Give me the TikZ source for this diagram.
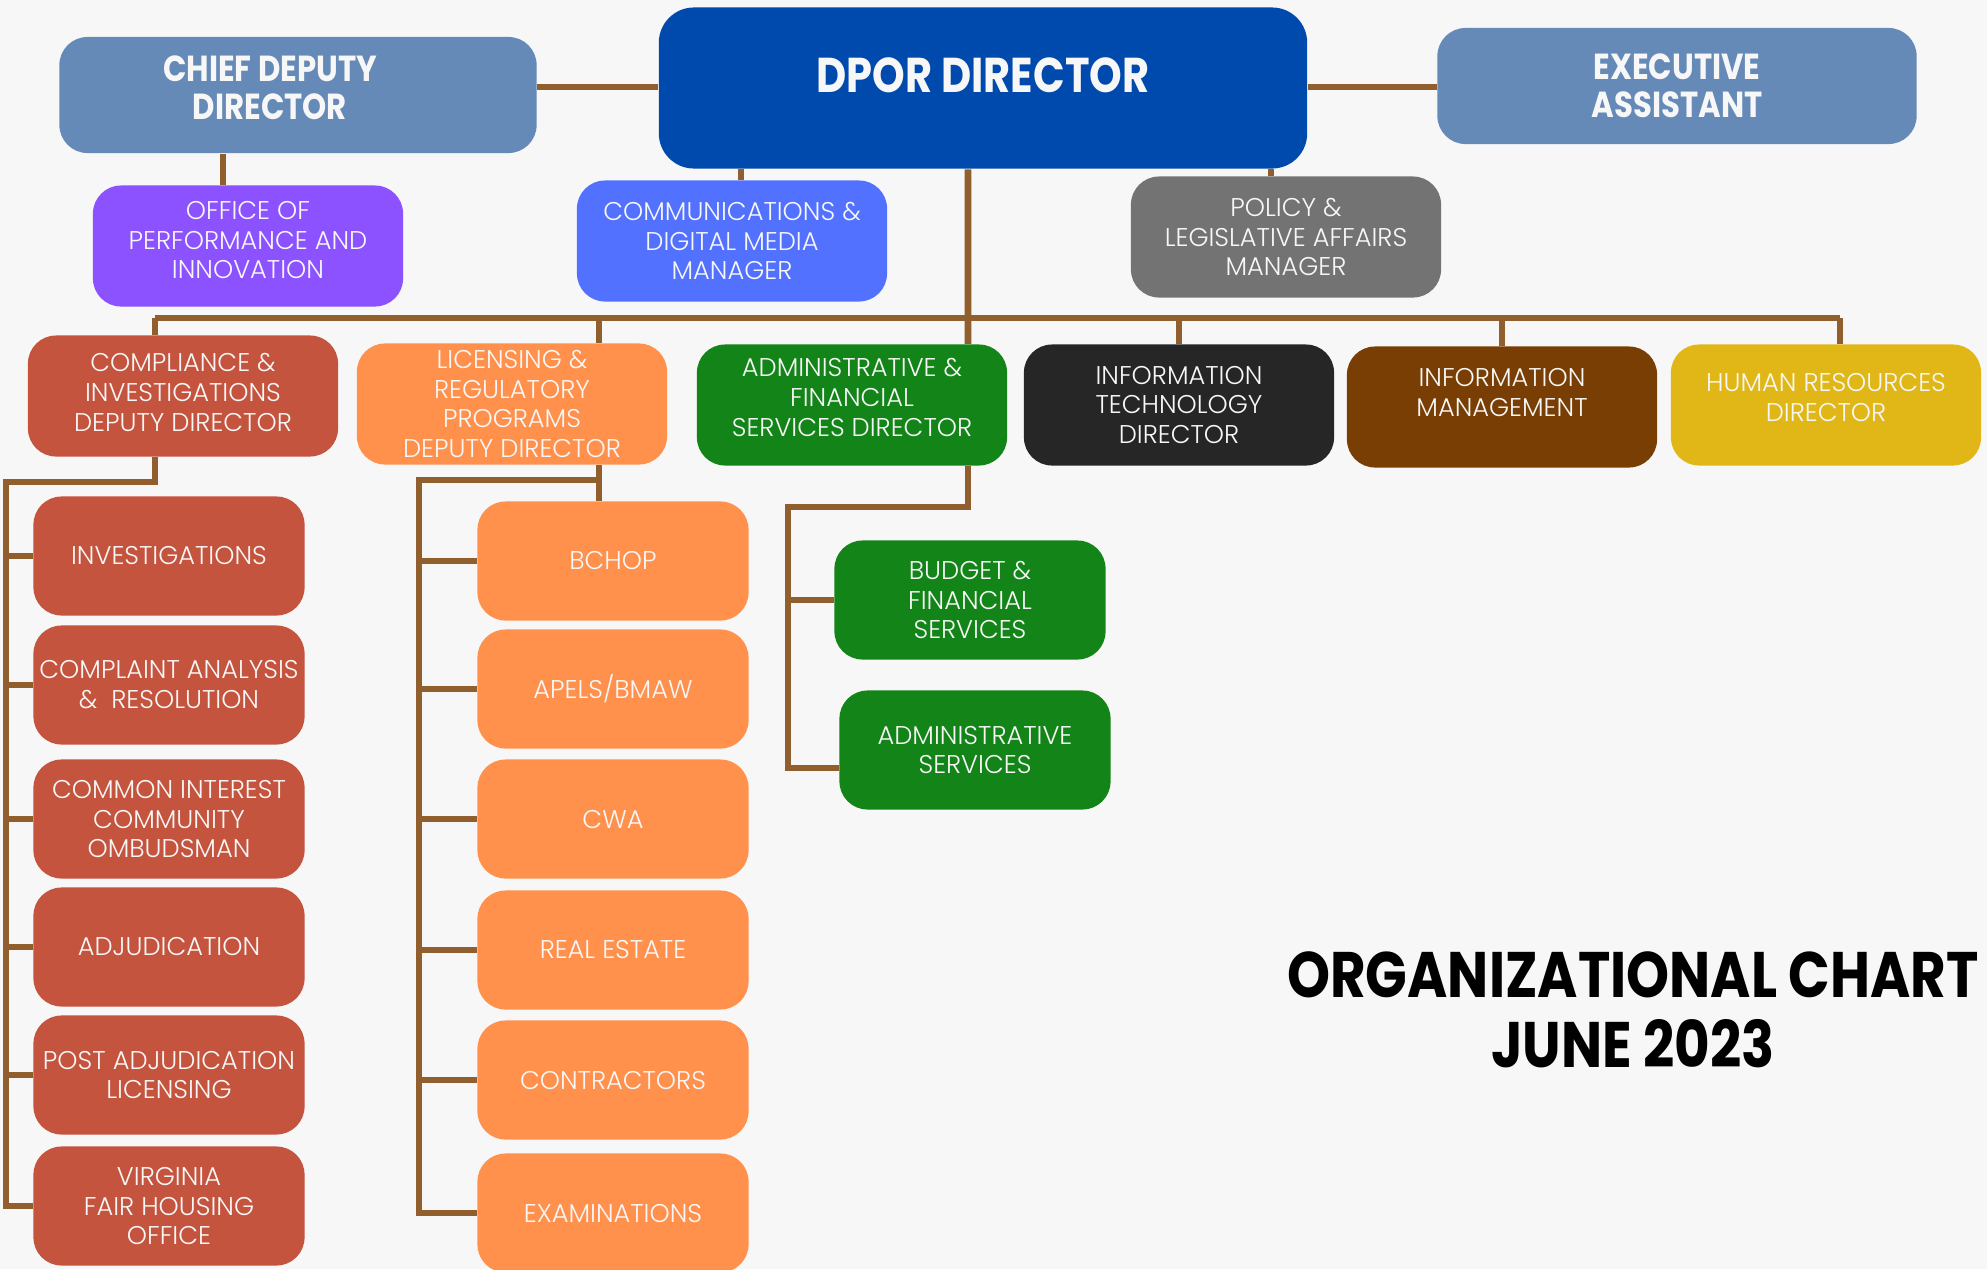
\documentclass[tikz,border=0pt]{standalone}
\usepackage{fontspec}
\setmainfont{Poppins}[UprightFont=* Light, BoldFont=* Bold]
\newfontfamily\headfont{Poppins}[FakeStretch=0.85]
\usepackage{tikz}
\definecolor{pagebg}{RGB}{247,247,247}
\definecolor{linkbrown}{RGB}{145,94,45}
\definecolor{steelblue}{RGB}{102,138,184}
\definecolor{royalblue}{RGB}{0,74,173}
\definecolor{perfviolet}{RGB}{140,82,255}
\definecolor{mediablue}{RGB}{82,113,255}
\definecolor{policygray}{RGB}{115,115,115}
\definecolor{compred}{RGB}{196,84,62}
\definecolor{licorange}{RGB}{255,145,77}
\definecolor{admingreen}{RGB}{19,133,24}
\definecolor{itblack}{RGB}{38,38,38}
\definecolor{infobrown}{RGB}{120,62,3}
\definecolor{hrgold}{RGB}{224,183,22}
\definecolor{boxtext}{RGB}{247,247,247}

\begin{document}
\begin{tikzpicture}[
    x=0.01cm, y=-0.01cm,
    unit/.style={
        rectangle,
        rounded corners=8pt,
        inner sep=1pt,
        align=center,
        text=boxtext,
        font=\fontsize{7.3}{8.5}\selectfont
    },
    head/.style={
        unit,
        font=\headfont\bfseries\fontsize{10.3}{10.8}\selectfont
    },
    mid/.style={unit, minimum width=3.1cm, minimum height=1.21cm},
    sub/.style={unit, minimum width=2.71cm, minimum height=1.19cm},
    link/.style={draw=linkbrown, line width=1.9pt}
]
    % Page
    \useasboundingbox (0,0) rectangle (1987,1269);
    \fill[pagebg] (0,0) rectangle (1987,1269);

    % Top row
    \node[head, fill=royalblue, rounded corners=10pt, minimum width=6.48cm, minimum height=1.61cm,
          font=\headfont\bfseries\fontsize{13.9}{15}\selectfont, text depth=0.25cm] (director) at (983,88) {DPOR DIRECTOR};
    \node[head, fill=steelblue, minimum width=4.77cm, minimum height=1.16cm, text depth=0.15cm] (chief) at (298,95) {
        CHIEF DEPUTY\hspace*{0.56cm}\\
        DIRECTOR\hspace*{0.56cm}
    };
    \node[head, fill=steelblue, minimum width=4.79cm, minimum height=1.16cm] (exec) at (1677,86) {
        EXECUTIVE\\
        ASSISTANT
    };

    % Staff offices
    \node[mid, fill=perfviolet, text depth=0.12cm] (perf) at (248,246) {
        OFFICE OF\\
        PERFORMANCE AND\\
        INNOVATION
    };
    \node[mid, fill=mediablue] (comm) at (732,241) {
        COMMUNICATIONS \&\\
        DIGITAL MEDIA\\
        MANAGER
    };
    \node[mid, fill=policygray] (policy) at (1286,237) {
        POLICY \&\\
        LEGISLATIVE AFFAIRS\\
        MANAGER
    };

    % Divisions
    \node[mid, fill=compred, text depth=0.08cm] (compl) at (183,396) {
        COMPLIANCE \&\\
        INVESTIGATIONS\\
        DEPUTY DIRECTOR
    };
    \node[mid, fill=licorange] (licen) at (512,404) {
        LICENSING \&\\
        REGULATORY\\
        PROGRAMS\\
        DEPUTY DIRECTOR
    };
    \node[mid, fill=admingreen, text depth=0.15cm] (admin) at (852,405) {
        ADMINISTRATIVE \&\\
        FINANCIAL\\
        SERVICES DIRECTOR
    };
    \node[mid, fill=itblack] (itdir) at (1179,405) {
        INFORMATION\\
        TECHNOLOGY\\
        DIRECTOR
    };
    \node[mid, fill=infobrown, text depth=0.3cm] (infomgmt) at (1502,407) {
        INFORMATION\\
        MANAGEMENT
    };
    \node[mid, fill=hrgold, text depth=0.15cm] (hr) at (1826,405) {
        HUMAN RESOURCES\\
        DIRECTOR
    };

    % Compliance units
    \node[sub, fill=compred] (inv) at (169,556) {INVESTIGATIONS};
    \node[sub, fill=compred] (compan) at (169,685) {
        COMPLAINT ANALYSIS\\
        \&\ \ RESOLUTION
    };
    \node[sub, fill=compred] (cico) at (169,819) {
        COMMON INTEREST\\
        COMMUNITY\\
        OMBUDSMAN
    };
    \node[sub, fill=compred] (adj) at (169,947) {ADJUDICATION};
    \node[sub, fill=compred] (postadj) at (169,1075) {
        POST ADJUDICATION\\
        LICENSING
    };
    \node[sub, fill=compred] (vfho) at (169,1206) {
        VIRGINIA\\
        FAIR HOUSING\\
        OFFICE
    };

    % Licensing boards
    \node[sub, fill=licorange] (bchop) at (613,561) {BCHOP};
    \node[sub, fill=licorange] (apels) at (613,689) {APELS/BMAW};
    \node[sub, fill=licorange] (cwa) at (613,819) {CWA};
    \node[sub, fill=licorange] (realest) at (613,950) {REAL ESTATE};
    \node[sub, fill=licorange] (contr) at (613,1080) {CONTRACTORS};
    \node[sub, fill=licorange] (exam) at (613,1213) {EXAMINATIONS};

    % Administrative units
    \node[sub, fill=admingreen] (budget) at (970,600) {
        BUDGET \&\\
        FINANCIAL\\
        SERVICES
    };
    \node[sub, fill=admingreen] (asvc) at (975,750) {
        ADMINISTRATIVE\\
        SERVICES
    };

    % Top links
    \draw[link] (director.west |- 0,87) -- (chief.east |- 0,87);
    \draw[link] (director.east |- 0,87) -- (exec.west |- 0,87);
    \draw[link] ([xshift=-0.75cm]chief.south) -- ([xshift=-0.75cm]chief.south |- perf.north);
    \draw[link] ([xshift=0.09cm]comm.north) -- ([xshift=0.09cm]comm.north |- director.south);
    \draw[link] ([xshift=-0.15cm]policy.north) -- ([xshift=-0.15cm]policy.north |- director.south);
    \draw[link] ([xshift=-0.15cm]director.south) -- ([xshift=1.16cm]admin.north);

    % Division bus
    \coordinate (busL) at (155,318);
    \coordinate (busR) at (1840,318);
    \draw[link] (busL) -- (busR);
    \draw[link] (busL) -- (busL |- compl.north);
    \draw[link] ([xshift=0.87cm]licen.north) -- ([xshift=0.87cm]licen.north |- busL);
    \draw[link] (itdir.north) -- (itdir.north |- busL);
    \draw[link] (infomgmt.north) -- (infomgmt.north |- busL);
    \draw[link] (busR) -- (busR |- hr.north);

    % Compliance spine
    \coordinate (cspine) at (6,482);
    \draw[link] ([xshift=-0.28cm]compl.south) |- (cspine) |- (vfho.west);
    \draw[link] (cspine |- inv.west) -- (inv.west);
    \draw[link] (cspine |- compan.west) -- (compan.west);
    \draw[link] (cspine |- cico.west) -- (cico.west);
    \draw[link] (cspine |- adj.west) -- (adj.west);
    \draw[link] (cspine |- postadj.west) -- (postadj.west);

    % Licensing spine
    \coordinate (lspine) at (419,480);
    \draw[link] ([xshift=0.87cm]licen.south) -- ([xshift=0.87cm]licen.south |- bchop.north);
    \draw[link] ([xshift=0.87cm]licen.south |- lspine) -- (lspine) |- (exam.west);
    \draw[link] (lspine |- bchop.west) -- (bchop.west);
    \draw[link] (lspine |- apels.west) -- (apels.west);
    \draw[link] (lspine |- cwa.west) -- (cwa.west);
    \draw[link] (lspine |- realest.west) -- (realest.west);
    \draw[link] (lspine |- contr.west) -- (contr.west);

    % Administrative spine
    \coordinate (aspine) at (788,507);
    \draw[link] ([xshift=1.16cm]admin.south) |- (aspine) |- ([yshift=-0.18cm]asvc.west);
    \draw[link] (aspine |- budget.west) -- (budget.west);

    % Title
    \node[font=\headfont\bfseries\fontsize{18.3}{19.8}\selectfont, align=center] (title) at (1633,1010) {
        ORGANIZATIONAL CHART\\
        JUNE 2023
    };
\end{tikzpicture}
\end{document}
